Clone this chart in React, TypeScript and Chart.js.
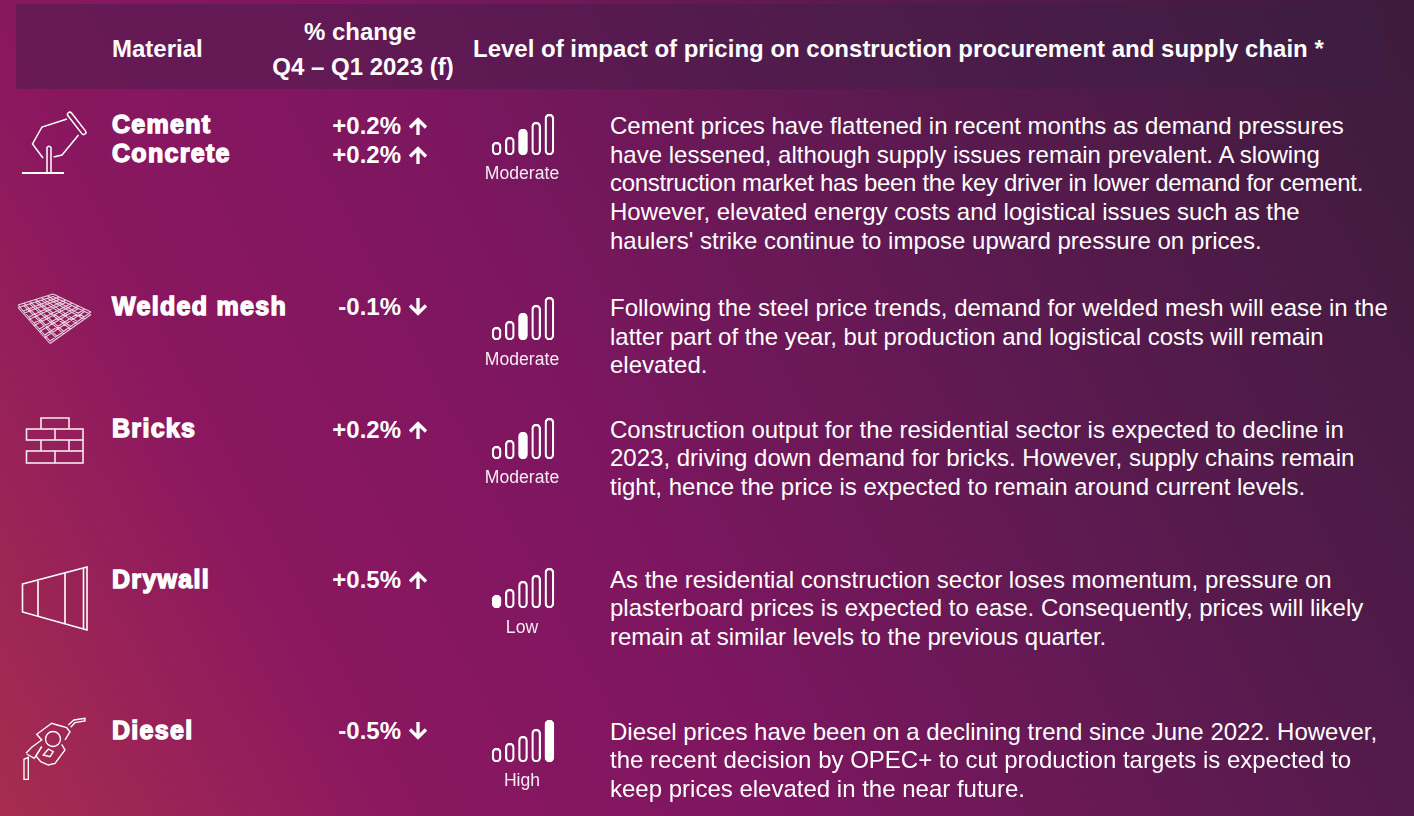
import React, { useEffect, useRef } from "react";
import { Chart, registerables } from "chart.js";

Chart.register(...registerables);

const FONT = '"Liberation Sans", Arial, sans-serif';

const materials = [["Cement", "Concrete"], ["Welded mesh"], ["Bricks"], ["Drywall"], ["Diesel"]];
const materialY = [[124, 153], [306], [428], [579], [730]];
const changes = [["+0.2%", "+0.2%"], ["-0.1%"], ["+0.2%"], ["+0.5%"], ["-0.5%"]];
const changeY = [[126, 155], [307], [430], [580], [731]];
const impactLabels = ["Moderate", "Moderate", "Moderate", "Low", "High"];
const impactLevels = [3, 3, 3, 1, 5];
const signalHeights = [
  [13, 18, 26, 33, 41],
  [13, 19, 27, 35, 43],
  [13, 19, 27, 35, 41],
  [13, 19, 27, 33, 40],
  [14, 19, 26, 33, 42],
];
const gaugeBottom = [155, 340, 459, 608, 762];
const gaugeLabelY = [173, 359, 477, 627, 780];
const descriptions = [
  [
    "Cement prices have flattened in recent months as demand pressures",
    "have lessened, although supply issues remain prevalent. A slowing",
    "construction market has been the key driver in lower demand for cement.",
    "However, elevated energy costs and logistical issues such as the",
    "haulers' strike continue to impose upward pressure on prices.",
  ],
  [
    "Following the steel price trends, demand for welded mesh will ease in the",
    "latter part of the year, but production and logistical costs will remain",
    "elevated.",
  ],
  [
    "Construction output for the residential sector is expected to decline in",
    "2023, driving down demand for bricks. However, supply chains remain",
    "tight, hence the price is expected to remain around current levels.",
  ],
  [
    "As the residential construction sector loses momentum, pressure on",
    "plasterboard prices is expected to ease. Consequently, prices will likely",
    "remain at similar levels to the previous quarter.",
  ],
  [
    "Diesel prices have been on a declining trend since June 2022. However,",
    "the recent decision by OPEC+ to cut production targets is expected to",
    "keep prices elevated in the near future.",
  ],
];
const descriptionY = [[126, 155, 183, 212, 241], [308, 337, 365], [430, 458, 487], [580, 608, 637], [732, 760, 789]];
const headers = { material: "Material", change: "% change", period: "Q4 – Q1 2023 (f)", impact: "Level of impact of pricing on construction procurement and supply chain *" };

function Label(p: { x: number; y: number; size: number; bold?: boolean; children: React.ReactNode; center?: boolean; right?: boolean; extra?: React.CSSProperties }) {
  const style: React.CSSProperties = {
    position: "absolute",
    top: p.y - 20,
    height: 40,
    lineHeight: "40px",
    fontSize: p.size,
    fontWeight: p.bold ? 700 : 400,
    whiteSpace: "nowrap",
    color: "#fff",
    left: p.x,
    transform: p.center ? "translateX(-50%)" : p.right ? "translateX(-100%)" : undefined,
    ...p.extra,
  };
  return <div style={style}>{p.children}</div>;
}

function Gauge({ heights, level, bottom }: { heights: number[]; level: number; bottom: number }) {
  const ref = useRef<HTMLCanvasElement>(null);
  useEffect(() => {
    const chart = new Chart(ref.current!, {
      type: "bar",
      data: {
        labels: heights.map((_, i) => String(i + 1)),
        datasets: [
          {
            data: heights,
            backgroundColor: heights.map((_, i) => (i + 1 === level ? "#ffffff" : "rgba(255,255,255,0)")),
            borderColor: "#ffffff",
            borderWidth: 1.6,
            borderSkipped: false,
            borderRadius: 20,
            barThickness: 9,
          },
        ],
      },
      options: {
        animation: false,
        responsive: false,
        maintainAspectRatio: false,
        layout: { padding: 0 },
        plugins: { legend: { display: false }, tooltip: { enabled: false } },
        scales: {
          x: { display: false },
          y: { display: false, min: 0, max: 50 },
        },
      },
    });
    return () => chart.destroy();
  }, []);
  return <canvas ref={ref} width={66} height={50} style={{ position: "absolute", left: 490, top: bottom - 50, width: 66, height: 50 }} />;
}

function Arrow({ y, up }: { y: number; up: boolean }) {
  const d = up ? "M10 18V3M2 10.500L10 2.500L18 10.500" : "M10 0V15M2 7.500L10 15.500L18 7.500";
  return (
    <svg style={{ position: "absolute", left: 408, top: y - 9, width: 20, height: 19 }} viewBox="0 0 20 19">
      <path d={d} fill="none" stroke="#fff" strokeWidth={3.3} />
    </svg>
  );
}

function Icons() {
  const mesh: string[] = [];
  const L = [18, 305], T = [53, 294], R = [91, 312], B = [50, 341];
  const mix = (a: number[], b: number[], t: number) => [a[0] + (b[0] - a[0]) * t, a[1] + (b[1] - a[1]) * t];
  for (let i = 0; i <= 6; i++) {
    const t = i / 6;
    const a = mix(L, B, t), b = mix(T, R, t), c = mix(L, T, t), d = mix(B, R, t);
    mesh.push(`M${a[0]} ${a[1]}L${b[0]} ${b[1]}`, `M${c[0]} ${c[1]}L${d[0]} ${d[1]}`);
    mesh.push(`M${a[0]} ${a[1] + 2.5}L${b[0]} ${b[1] + 2.5}`, `M${c[0]} ${c[1] + 2.5}L${d[0]} ${d[1] + 2.5}`);
  }
  return (
    <svg style={{ position: "absolute", left: 0, top: 0 }} width={110} height={816} fill="none" stroke="#fff">
      {/* cement */}
      <g strokeWidth={1.5}>
        <path d="M22 173H64" strokeWidth={2} />
        <path d="M47 173V147.500Q49 145 51 147.500V173" />
        <path d="M43 158L32.500 144L42 127L67 119" />
        <path d="M78.500 135L62 155L53.600 157" />
        <rect x={63} y={121} width={27} height={4.500} rx={2.2} transform="rotate(52 76.500 123.500)" />
      </g>
      {/* mesh */}
      <path d={mesh.join("")} strokeWidth={1.1} opacity={0.8} />
      {/* bricks */}
      <g strokeWidth={1.6} opacity={0.9}>
        <path d="M41 429V418H69V429" />
        <rect x={26.5} y={429} width={56.5} height={11} />
        <path d="M55 429V440" />
        <path d="M41 440V451M69 440V451M83 440V451" />
        <rect x={26.5} y={451} width={56.5} height={12} />
        <path d="M55 451V463" />
      </g>
      {/* drywall */}
      <g strokeWidth={1.6}>
        <path d="M22.5 584L87 567V630L22.5 612Z" />
        <path d="M38 581V616M65 573V624M83.5 568V629" />
      </g>
      {/* diesel */}
      <g strokeWidth={1.35}>
        <path d="M24 779.300V759.300L28.300 757.300V779.300Z" />
        <path d="M26 753.300L31.700 747.300L41.700 740L36.700 734.300L51.700 723.300L57.300 725L66.700 727.700L70 731.700L65 740" />
        <path d="M26.700 754L34.300 758.300L41.700 746.700" />
        <path d="M41.700 746.700L36 756L40.700 761.700L48.300 765L55 763.300L65 750L61.700 744.300" />
        <path d="M68.300 725L74 720L85 718.300V721L75 722.700L70.700 727.300" />
        <circle cx={53} cy={739} r={7.500} />
        <path d="M43.300 755L48.300 749L53.300 751.700L50 756.700Z" />
      </g>
    </svg>
  );
}

export default function App() {
  useEffect(() => {
    document.body.style.margin = "0";
    document.body.style.overflow = "hidden";
  }, []);
  return (
    <div
      style={{
        position: "fixed",
        left: 0,
        top: 0,
        width: 1414,
        height: 816,
        overflow: "hidden",
        fontFamily: FONT,
        background: "linear-gradient(62deg, #a62d4f 0%, #8a1760 22%, #7e1660 42%, #5c1a50 68%, #3c1b3c 100%)",
      }}
    >
      <div style={{ position: "absolute", left: 16, top: 4, width: 1368, height: 85, background: "rgba(60,30,70,0.42)" }} />
      <Label x={112} y={49} size={24} bold>{headers.material}</Label>
      <Label x={360} y={32} size={24} bold center>{headers.change}</Label>
      <Label x={363} y={67} size={24} bold center>{headers.period}</Label>
      <Label x={473} y={49} size={24} bold>{headers.impact}</Label>
      <Icons />
      {materials.map((names, r) =>
        names.map((n, i) => (
          <Label key={n} x={112} y={materialY[r][i]} size={25} bold extra={{ WebkitTextStroke: "1.4px #fff", letterSpacing: 1.3 }}>{n}</Label>
        ))
      )}
      {changes.map((vals, r) =>
        vals.map((v, i) => (
          <React.Fragment key={r + "-" + i}>
            <Label x={401} y={changeY[r][i]} size={24} bold right>{v}</Label>
            <Arrow y={changeY[r][i]} up={v.startsWith("+")} />
          </React.Fragment>
        ))
      )}
      {impactLabels.map((l, r) => (
        <React.Fragment key={r}>
          <Gauge heights={signalHeights[r]} level={impactLevels[r]} bottom={gaugeBottom[r]} />
          <Label x={522} y={gaugeLabelY[r]} size={17.6} center extra={{ color: "rgba(255,255,255,0.92)" }}>{l}</Label>
        </React.Fragment>
      ))}
      {descriptions.map((lines, r) =>
        lines.map((t, i) => (
          <Label key={t} x={610} y={descriptionY[r][i]} size={24} extra={r === 0 && i === 2 ? { letterSpacing: -0.31 } : undefined}>{t}</Label>
        ))
      )}
    </div>
  );
}
